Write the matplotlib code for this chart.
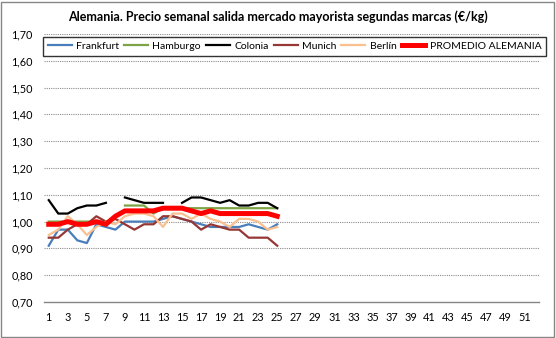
import numpy as np
import matplotlib
matplotlib.use("Agg")
import matplotlib.pyplot as plt
from matplotlib.patches import Rectangle
from matplotlib.ticker import FuncFormatter

nan = np.nan
weeks = list(range(1, 26))
frankfurt = [0.91, 0.97, 0.97, 0.93, 0.92, 0.99, 0.98, 0.97, 1.00, 1.00, 1.00, 1.00, 1.01,
             1.02, 1.01, 1.00, 0.99, 0.98, 0.98, 0.98, 0.98, 0.99, 0.98, 0.97, 0.99]
hamburgo = [1.00, 1.00, 1.00, 1.00, 1.00, 1.00, 1.00, nan, 1.06, 1.06, 1.06, 1.03, 1.05,
            1.05, 1.05, 1.05, 1.05, 1.05, 1.05, 1.05, 1.05, 1.05, 1.05, 1.05, 1.05]
colonia = [1.08, 1.03, 1.03, 1.05, 1.06, 1.06, 1.07, nan, 1.09, 1.08, 1.07, 1.07, 1.07,
           nan, 1.07, 1.09, 1.09, 1.08, 1.07, 1.08, 1.06, 1.06, 1.07, 1.07, 1.05]
munich = [0.94, 0.94, 0.97, 0.99, 0.99, 1.02, 1.00, 1.01, 0.99, 0.97, 0.99, 0.99, 1.02,
          1.02, 1.01, 1.00, 0.97, 0.99, 0.98, 0.97, 0.97, 0.94, 0.94, 0.94, 0.91]
berlin = [0.95, 0.97, 1.02, 0.99, 0.95, 0.98, 1.00, 0.99, 1.02, 1.03, 1.03, 1.02, 0.98,
          1.03, 1.03, 1.01, 1.03, 1.01, 1.00, 0.98, 1.01, 1.01, 1.00, 0.97, 0.98]
promedio = [0.99, 0.99, 1.00, 0.99, 0.99, 1.00, 0.99, 1.02, 1.04, 1.04, 1.04, 1.04, 1.05,
            1.05, 1.05, 1.04, 1.03, 1.04, 1.03, 1.03, 1.03, 1.03, 1.03, 1.03, 1.02]

series = [
    ("Frankfurt", frankfurt, "#4A7EBB", 1.6),
    ("Hamburgo", hamburgo, "#7EA345", 1.6),
    ("Colonia", colonia, "#000000", 1.6),
    ("Munich", munich, "#953735", 1.6),
    ("Berlín", berlin, "#FAC090", 1.6),
    ("PROMEDIO ALEMANIA", promedio, "#FF0000", 3.6),
]

xticks = list(range(1, 52, 2))
yticks = [0.70, 0.80, 0.90, 1.00, 1.10, 1.20, 1.30, 1.40, 1.50, 1.60, 1.70]

plt.rcParams['font.family'] = ['Lato', 'DejaVu Sans']

W, H = 556, 338
fig = plt.figure(figsize=(W / 100, H / 100), dpi=100)
ax = fig.add_axes([44 / W, 1 - 302 / H, (539 - 44) / W, (302 - 34) / H])

handles = []
for name, vals, col, lw in series:
    h, = ax.plot(weeks, vals, color=col, lw=lw, label=name, solid_joinstyle='round')
    handles.append(h)

ax.set_xlim(0.5, 52.5)
ax.set_ylim(0.70, 1.70)
ax.set_yticks(yticks)
ax.set_xticks(xticks)
ax.yaxis.set_major_formatter(FuncFormatter(lambda v, p: f"{v:.2f}".replace('.', ',')))
ax.tick_params(axis='both', length=0, labelsize=7.8, colors='#000000')
ax.tick_params(axis='y', pad=8)
ax.tick_params(axis='x', pad=7)
for y in yticks[1:]:
    ax.axhline(y, color='#8C8C8C', lw=0.8, ls=(0, (1, 1)), zorder=0)
for s in ['top', 'right', 'left']:
    ax.spines[s].set_visible(False)
ax.spines['bottom'].set_color('#868686')
ax.spines['bottom'].set_linewidth(1.0)

fig.text(0.5, 1 - 17 / H, "Alemania. Precio semanal salida mercado mayorista segundas marcas (€/kg)",
         ha='center', va='center', fontsize=9, fontweight='bold')

leg = fig.legend(handles=handles, loc='center', bbox_to_anchor=(294.5 / W, 1 - 46.3 / H),
                 ncol=6, fontsize=7.5, frameon=True, fancybox=False, edgecolor='#000000',
                 handlelength=2.3, handletextpad=0.4, columnspacing=0.5, borderpad=0.45)
leg.get_frame().set_linewidth(1.0)

fig.patches.append(Rectangle((1 / W, 1 / H), 1 - 3 / W, 1 - 3 / H, transform=fig.transFigure,
                             fill=False, edgecolor='#868686', lw=1.0))

fig.savefig("out.png", dpi=100)
